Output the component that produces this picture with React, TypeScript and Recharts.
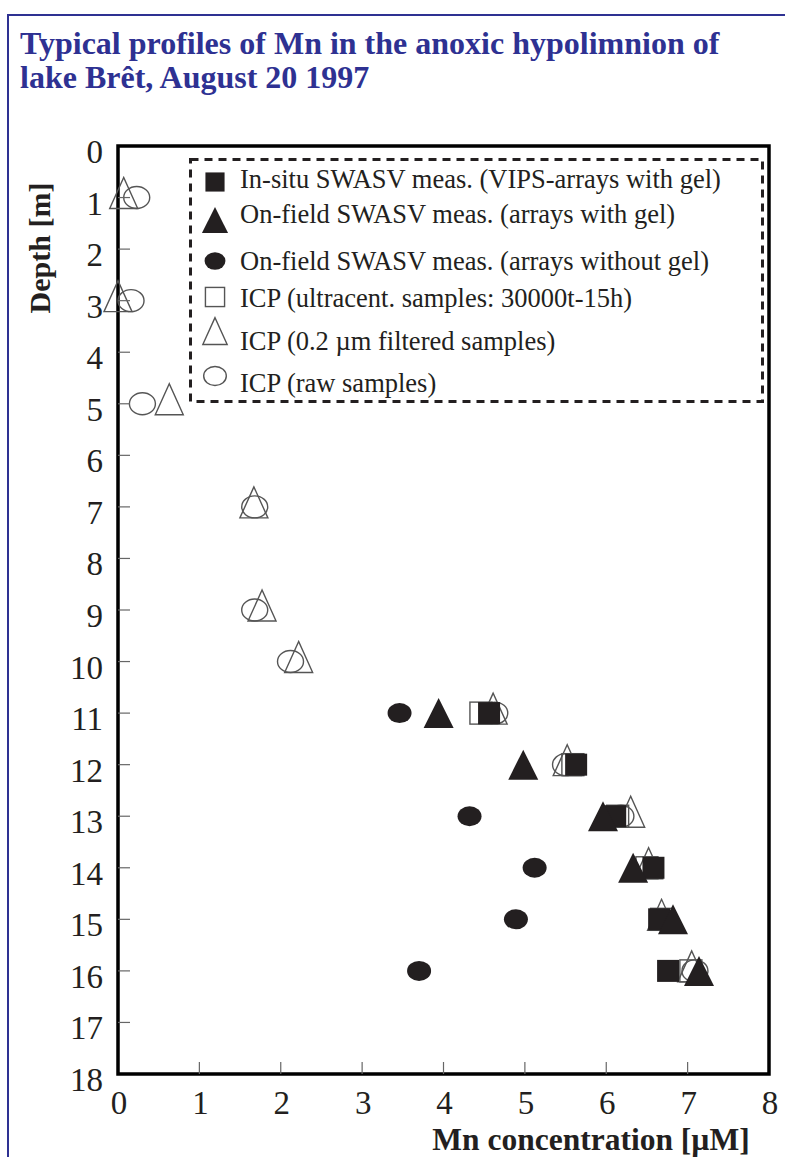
import React from 'react';
import { ScatterChart, Scatter, XAxis, YAxis, ReferenceArea, Legend } from 'recharts';

// ---- data (x = Mn concentration [µM], depth [m]) ----
const insituDepths = [11, 12, 13, 14, 15, 16];
const insituMn = [4.56, 5.63, 6.11, 6.58, 6.65, 6.76];

const gelDepths = [11, 12, 13, 14, 15, 16];
const gelMn = [3.94, 4.98, 5.96, 6.33, 6.82, 7.14];

const noGelDepths = [11, 13, 14, 15, 16];
const noGelMn = [3.46, 4.32, 5.12, 4.89, 3.70];

const ultraDepths = [11, 12, 13, 14, 15, 16];
const ultraMn = [4.46, 5.59, 6.14, 6.50, 6.68, 7.04];

const filtDepths = [1, 3, 5, 7, 9, 10, 11, 12, 13, 14, 15, 16];
const filtMn = [0.07, 0.0, 0.63, 1.67, 1.77, 2.22, 4.61, 5.52, 6.30, 6.52, 6.68, 7.05];

const rawDepths = [1, 3, 5, 7, 9, 10, 11, 12, 13, 16];
const rawMn = [0.23, 0.16, 0.30, 1.68, 1.68, 2.12, 4.63, 5.50, 6.18, 7.09];

const xTicks = [0, 1, 2, 3, 4, 5, 6, 7, 8];
const yTicks = [0, 1, 2, 3, 4, 5, 6, 7, 8, 9, 10, 11, 12, 13, 14, 15, 16, 17, 18];

const seriesNames = [
  'In-situ SWASV meas. (VIPS-arrays with gel)',
  'On-field SWASV meas. (arrays with gel)',
  'On-field SWASV meas. (arrays without gel)',
  'ICP (ultracent. samples: 30000t-15h)',
  'ICP (0.2 \u00b5m filtered samples)',
  'ICP (raw samples)',
];
const seriesKinds = ['fsq', 'ftri', 'fcirc', 'osq', 'otri', 'ocirc'];

const titleLines = ['Typical profiles of Mn in the anoxic hypolimnion of', 'lake Br\u00eat, August 20 1997'];
const xLabel = 'Mn concentration [\u00b5M]';
const yLabel = 'Depth [m]';

// ---- styling ----
const INK = '#231f20';
const OPEN = '#555555';
const BLUE = '#2e3192';
const SERIF = '"Liberation Serif", "Times New Roman", serif';

const toPoints = (mn: number[], d: number[]) => mn.map((x, i) => ({ x, y: d[i] }));

function marker(kind: string, cx: number, cy: number, s = 1) {
  switch (kind) {
    case 'fsq':
      return <rect x={cx - 11 * s} y={cy - 11 * s} width={22 * s} height={22 * s} fill={INK} />;
    case 'ftri':
      return (
        <polygon
          points={`${cx},${cy - 15 * s} ${cx - 15 * s},${cy + 15 * s} ${cx + 15 * s},${cy + 15 * s}`}
          fill={INK}
        />
      );
    case 'fcirc':
      return <ellipse cx={cx} cy={cy} rx={12 * s} ry={10 * s} fill={INK} />;
    case 'osq':
      return (
        <rect x={cx - 11 * s} y={cy - 11 * s} width={22 * s} height={22 * s} fill="none" stroke={OPEN} strokeWidth={1.4} />
      );
    case 'otri':
      return (
        <polygon
          points={`${cx},${cy - 20 * s} ${cx - 14 * s},${cy + 11 * s} ${cx + 14 * s},${cy + 11 * s}`}
          fill="none"
          stroke={OPEN}
          strokeWidth={1.4}
        />
      );
    default:
      return <ellipse cx={cx} cy={cy} rx={13 * s} ry={11 * s} fill="none" stroke={OPEN} strokeWidth={1.4} />;
  }
}

const shapeFor = (kind: string) => (p: any) => <g>{marker(kind, p.cx, p.cy)}</g>;

const YTick = (p: any) => {
  const v = p.payload.value;
  return (
    <g>
      {v !== 0 && v !== 18 && <line x1={p.x + 15} x2={p.x + 27} y1={p.y} y2={p.y} stroke="#666" strokeWidth={1.2} />}
      <text x={p.x} y={p.y} dy={17} textAnchor="end" fontFamily={SERIF} fontSize={33} fill={INK}>
        {v}
      </text>
    </g>
  );
};

const XTick = (p: any) => {
  const v = p.payload.value;
  return (
    <g>
      {v !== 0 && v !== 8 && <line x1={p.x} x2={p.x} y1={p.y - 17} y2={p.y - 29} stroke="#666" strokeWidth={1.2} />}
      <text x={p.x + 1} y={p.y} dy="0.71em" textAnchor="middle" fontFamily={SERIF} fontSize={33} fill={INK}>
        {v}
      </text>
    </g>
  );
};

const rowMarkerY = [24, 62, 103, 139, 177, 218];
const rowTextY = [21, 56, 103, 140, 183, 225];

const renderLegend = () => (
  <svg width={576} height={246} style={{ display: 'block', overflow: 'visible' }}>
    <rect x={1.5} y={1.5} width={572} height={242} fill="none" stroke={INK} strokeWidth={3} strokeDasharray="8 6" />
    {seriesNames.map((name, i) => (
      <g key={name}>
        {marker(seriesKinds[i], 26, rowMarkerY[i], 0.87)}
        <text x={51} y={rowTextY[i]} dy="0.35em" fontFamily={SERIF} fontSize={26.5} fill={INK}>
          {name}
        </text>
      </g>
    ))}
  </svg>
);

export default function App() {
  return (
    <div style={{ position: 'absolute', left: 0, top: 0, width: 785, height: 1157, background: '#fff' }}>
      <svg width={785} height={1157} style={{ position: 'absolute', left: 0, top: 0 }}>
        <polyline points="8,1157 8,15 785,15" fill="none" stroke={BLUE} strokeWidth={2} />
        {titleLines.map((t, i) => (
          <text key={t} x={20} y={54 + i * 34} fontFamily={SERIF} fontWeight="bold" fontSize={32} fill={BLUE}>
            {t}
          </text>
        ))}
        <text
          x={0}
          y={0}
          transform="translate(50,248) rotate(-90)"
          textAnchor="middle"
          fontFamily={SERIF}
          fontWeight="bold"
          fontSize={30}
          fill={INK}
        >
          {yLabel}
        </text>
        <text x={591} y={1150} textAnchor="middle" fontFamily={SERIF} fontWeight="bold" fontSize={31.5} fill={INK}>
          {xLabel}
        </text>
      </svg>
      <div style={{ position: 'absolute', left: 0, top: 0 }}>
        <ScatterChart width={785} height={1157} margin={{ top: 146, right: 16, bottom: 23, left: 58 }}>
          <XAxis
            type="number"
            dataKey="x"
            domain={[0, 8]}
            ticks={xTicks}
            interval={0}
            axisLine={false}
            tickLine={false}
            tickSize={0}
            tickMargin={17}
            height={60}
            tick={<XTick />}
          />
          <YAxis
            type="number"
            dataKey="y"
            domain={[0, 18]}
            reversed
            ticks={yTicks}
            interval={0}
            axisLine={false}
            tickLine={false}
            tickSize={0}
            tickMargin={15}
            width={60}
            tick={<YTick />}
          />
          <ReferenceArea x1={0} x2={8} y1={0} y2={18} fill="none" stroke="#000" strokeWidth={3.5} fillOpacity={0} />
          <Legend layout="vertical" align="center" verticalAlign="middle" content={renderLegend}
            wrapperStyle={{ left: 189, top: 158, width: 576, height: 246 }} />
          <Scatter name={seriesNames[3]} data={toPoints(ultraMn, ultraDepths)} shape={shapeFor('osq')} isAnimationActive={false} />
          <Scatter name={seriesNames[4]} data={toPoints(filtMn, filtDepths)} shape={shapeFor('otri')} isAnimationActive={false} />
          <Scatter name={seriesNames[5]} data={toPoints(rawMn, rawDepths)} shape={shapeFor('ocirc')} isAnimationActive={false} />
          <Scatter name={seriesNames[0]} data={toPoints(insituMn, insituDepths)} shape={shapeFor('fsq')} isAnimationActive={false} />
          <Scatter name={seriesNames[1]} data={toPoints(gelMn, gelDepths)} shape={shapeFor('ftri')} isAnimationActive={false} />
          <Scatter name={seriesNames[2]} data={toPoints(noGelMn, noGelDepths)} shape={shapeFor('fcirc')} isAnimationActive={false} />
        </ScatterChart>
      </div>
    </div>
  );
}
